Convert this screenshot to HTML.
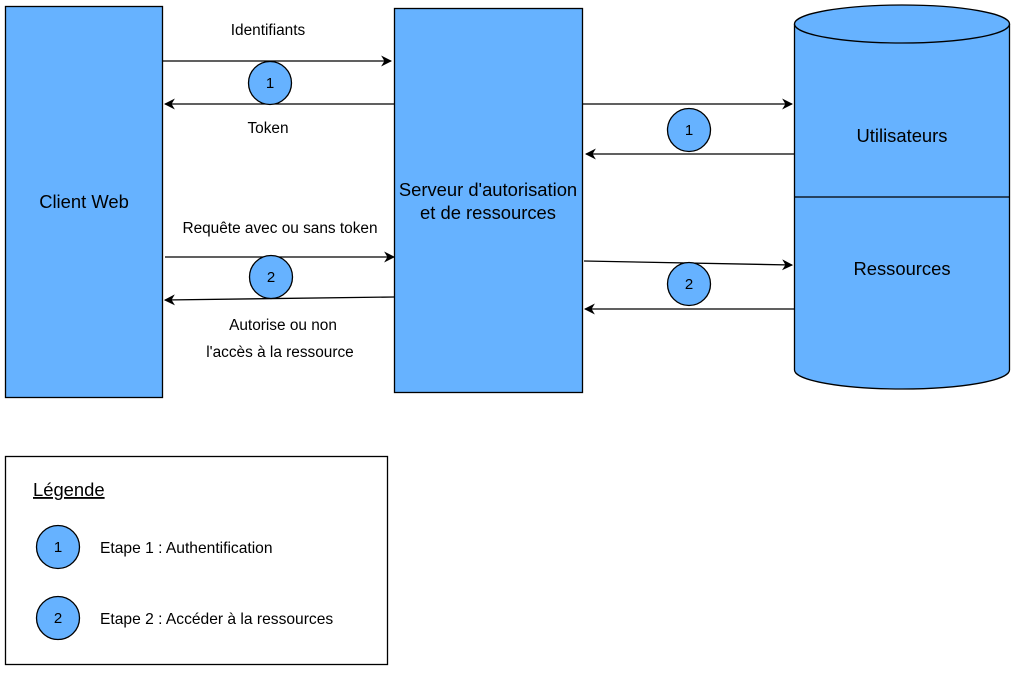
<!DOCTYPE html>
<html><head><meta charset="utf-8"><style>body{margin:0;background:#fff}svg{display:block}text{font-family:"Liberation Sans",Arial,sans-serif}</style></head>
<body>
<svg width="1016" height="673" viewBox="0 0 1016 673" xmlns="http://www.w3.org/2000/svg">
<defs><marker id="a" viewBox="0 0 10 10" refX="9" refY="5" markerWidth="11" markerHeight="11" markerUnits="userSpaceOnUse" orient="auto"><path d="M0,0 L10,5 L0,10 L3,5 Z" fill="#000"/></marker></defs>
<g stroke="#000" stroke-width="1.3" fill="#66B2FF">
<rect x="5.5" y="6.5" width="157" height="391"/>
<rect x="394.5" y="8.5" width="188" height="384"/>
<path d="M794.5,24 L794.5,370 A107.5,19 0 0 0 1009.5,370 L1009.5,24"/>
<ellipse cx="902" cy="24" rx="107.5" ry="19"/>
<line x1="794.5" y1="197" x2="1009.5" y2="197"/>
</g>
<g stroke="#000" stroke-width="1.3" marker-end="url(#a)">
<line x1="163" y1="61" x2="391" y2="61"/>
<line x1="394" y1="104" x2="165" y2="104"/>
<line x1="165" y1="257" x2="394" y2="257"/>
<line x1="394" y1="297" x2="165" y2="300"/>
<line x1="583" y1="104" x2="792" y2="104"/>
<line x1="794" y1="154" x2="586" y2="154"/>
<line x1="584" y1="261" x2="792" y2="265"/>
<line x1="794" y1="309" x2="585" y2="309"/>
</g>
<g stroke="#000" stroke-width="1.3" fill="#66B2FF">
<circle cx="270" cy="83" r="21.5"/><circle cx="271" cy="277" r="21.5"/>
<circle cx="689" cy="130" r="21.5"/><circle cx="689" cy="284" r="21.5"/>
<circle cx="58" cy="547" r="21.5"/><circle cx="58" cy="618" r="21.5"/>
</g>
<rect x="5.5" y="456.5" width="382" height="208" fill="none" stroke="#000" stroke-width="1.3"/>
<g font-size="15" text-anchor="middle" fill="#000">
<text x="270" y="88">1</text><text x="271" y="282">2</text>
<text x="689" y="135">1</text><text x="689" y="289">2</text>
<text x="58" y="552">1</text><text x="58" y="623">2</text>
</g>
<g font-size="15.4" text-anchor="middle" fill="#000">
<text x="268" y="35">Identifiants</text>
<text x="268" y="133">Token</text>
<text x="280" y="233">Requête avec ou sans token</text>
<text x="283" y="330">Autorise ou non</text>
<text x="280" y="357">l'accès à la ressource</text>
</g>
<g font-size="18.4" text-anchor="middle" fill="#000">
<text x="84" y="208">Client Web</text>
<text x="488" y="196">Serveur d'autorisation</text>
<text x="488" y="219">et de ressources</text>
<text x="902" y="142">Utilisateurs</text>
<text x="902" y="275">Ressources</text>
</g>
<text x="33" y="496" font-size="18.4" fill="#000" text-decoration="underline">Légende</text>
<g font-size="15.6" fill="#000">
<text x="100" y="553">Etape 1 : Authentification</text>
<text x="100" y="624">Etape 2 : Accéder à la ressources</text>
</g>
</svg>
</body></html>
